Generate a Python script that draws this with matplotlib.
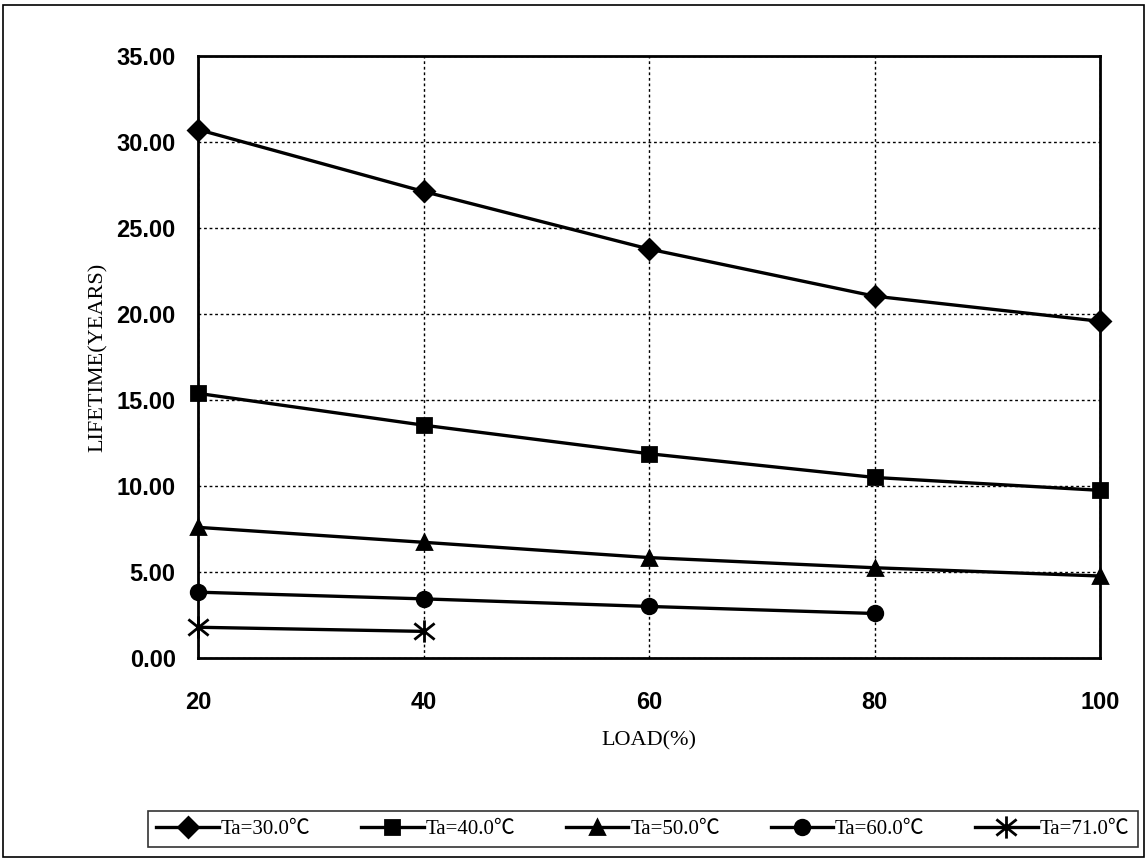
import numpy as np
import matplotlib

matplotlib.use("Agg")
import matplotlib.pyplot as plt
from matplotlib.path import Path
from matplotlib.patches import Rectangle

# load (%) and lifetime (years) per ambient temperature
load = [20, 40, 60, 80, 100]
life_30 = [30.73, 27.13, 23.78, 21.04, 19.58]
life_40 = [15.39, 13.54, 11.88, 10.50, 9.75]
life_50 = [7.60, 6.73, 5.84, 5.25, 4.77]
life_60 = [3.83, 3.44, 3.00, 2.59]
life_71 = [1.79, 1.55]
labels = ["Ta=30.0℃", "Ta=40.0℃", "Ta=50.0℃", "Ta=60.0℃", "Ta=71.0℃"]

# asterisk marker: x plus vertical stroke
star = Path([(-1, -0.8), (1, 0.8), (-1, 0.8), (1, -0.8), (0, -1.1), (0, 1.1)],
            [Path.MOVETO, Path.LINETO, Path.MOVETO, Path.LINETO,
             Path.MOVETO, Path.LINETO])

series = [
    (life_30, "D", 10),
    (life_40, "s", 10.5),
    (life_50, "^", 10.5),
    (life_60, "o", 10.5),
    (life_71, star, 16),
]

tick_font = ["Liberation Sans", "DejaVu Sans"]
serif_font = ["Liberation Serif", "Noto Sans CJK JP", "DejaVu Sans"]

fig = plt.figure(figsize=(11.47, 8.63), dpi=100)
ax = fig.add_axes([0.1726, 0.2375, 0.7866, 0.6975])

for (vals, mk, ms), lab in zip(series, labels):
    ax.plot(load[:len(vals)], vals, color="black", lw=2.4, marker=mk,
            ms=ms, mfc="black", mec="black", mew=2.0, label=lab,
            clip_on=False, zorder=5)

ax.set_xlim(20, 100)
ax.set_ylim(0, 35)
ax.set_xticks(load)
ax.set_yticks(np.arange(0, 36, 5))
ax.set_yticklabels([f"{v:.2f}" for v in np.arange(0, 36, 5)])
ax.grid(True, color="black", ls=(0, (2, 2)), lw=1.0)
ax.tick_params(length=0, labelsize=17)
ax.tick_params(axis="x", pad=24)
ax.tick_params(axis="y", pad=16)
for t in ax.get_xticklabels() + ax.get_yticklabels():
    t.set_family(tick_font)
    t.set_fontweight("bold")
for s in ax.spines.values():
    s.set_linewidth(2.0)

ax.set_xlabel("LOAD(%)", family=serif_font, fontsize=16, labelpad=12)
ax.set_ylabel("LIFETIME(YEARS)", family=serif_font, fontsize=16, labelpad=6)

leg = fig.legend(loc="lower left", bbox_to_anchor=(0.129, 0.018, 0.863, 0.07),
                 mode="expand", ncol=5, fancybox=False, edgecolor="black",
                 handlelength=3.0, handletextpad=0.1, borderaxespad=0,
                 prop={"family": serif_font, "size": 15})
leg.get_frame().set_linewidth(1.2)

# outer chart frame
fig.patches.append(Rectangle((0.003, 0.007), 0.994, 0.987,
                             transform=fig.transFigure, fill=False,
                             edgecolor="black", lw=1.2))

fig.savefig("out.png", dpi=100)
